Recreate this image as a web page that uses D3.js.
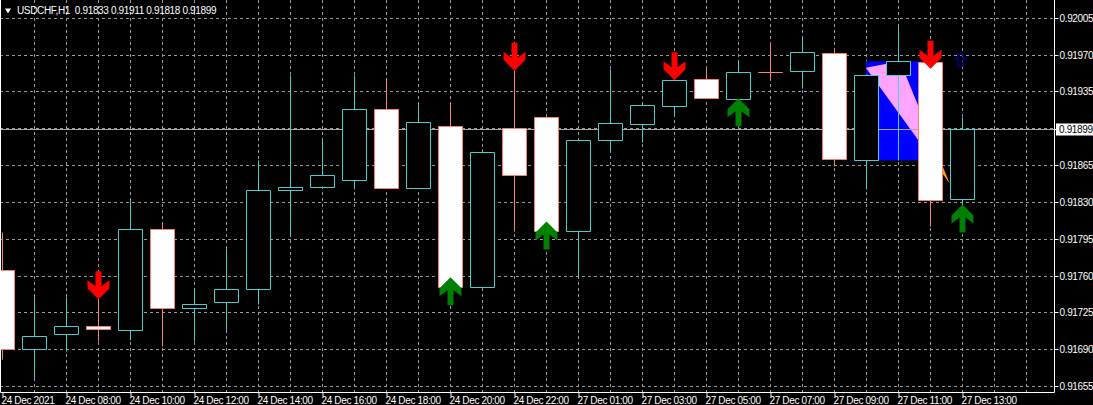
<!DOCTYPE html>
<meta charset="utf-8">
<style>
body { margin: 0; background: #000; }
svg { display: block; }
text {
  font-family: "Liberation Sans", Arial, sans-serif;
  font-size: 10px;
  fill: #fff;
  letter-spacing: -0.35px;
  white-space: pre;
}
</style>
<svg width="1093" height="405"></svg>
<script src="https://cdn.jsdelivr.net/npm/d3@7"></script>
<script>
// hourly bars
var opens  = [0.91765,0.91690,0.91705,0.91712,0.91708,0.91804,0.91729,0.91735,0.91747,0.91841,0.91844,0.91851,0.91918,0.91843,0.91902,0.91749,
              0.91900,0.91911,0.91802,0.91889,0.91904,0.91921,0.91947,0.91928,0.91953,0.91954,0.91971,0.91870,0.91951,0.91963,0.91833];
var highs  = [0.91801,0.91741,0.91740,0.91739,0.91832,0.91809,0.91747,0.91786,0.91870,0.91951,0.91891,0.91951,0.91948,0.91923,0.91924,0.91880,
              0.91956,0.91911,0.91890,0.91956,0.91923,0.91947,0.91957,0.91964,0.91980,0.91986,0.91974,0.91952,0.91998,0.91964,0.91911];
var lows   = [0.91681,0.91663,0.91688,0.91698,0.91699,0.91693,0.91698,0.91708,0.91733,0.91799,0.91843,0.91842,0.91843,0.91843,0.91747,0.91749,
              0.91802,0.91800,0.91760,0.91877,0.91887,0.91913,0.91929,0.91927,0.91946,0.91938,0.91864,0.91842,0.91870,0.91807,0.91818];
var closes = [0.91690,0.91703,0.91712,0.91709,0.91804,0.91729,0.91733,0.91747,0.91841,0.91844,0.91856,0.91918,0.91843,0.91906,0.91749,0.91877,
              0.91856,0.91802,0.91889,0.91905,0.91922,0.91946,0.91929,0.91953,0.91953,0.91972,0.91871,0.91951,0.91964,0.91832,0.91899];

var tickBars   = [0,2,4,6,8,10,12,14,16,18,20,22,24,26,28,30];
var tickLabels = ["24 Dec 2021","24 Dec 08:00","24 Dec 10:00","24 Dec 12:00","24 Dec 14:00","24 Dec 16:00","24 Dec 18:00","24 Dec 20:00",
                  "24 Dec 22:00","27 Dec 01:00","27 Dec 03:00","27 Dec 05:00","27 Dec 07:00","27 Dec 09:00","27 Dec 11:00","27 Dec 13:00"];
var priceTicks = [0.92005,0.91970,0.91935,0.91900,0.91865,0.91830,0.91795,0.91760,0.91725,0.91690,0.91655];

// signal arrows (bar, price of the tip)
var sellBars   = [3, 16, 21, 29];
var sellPrices = [0.91738, 0.91955, 0.91946, 0.91957];
var buyBars    = [14, 17, 23, 30];
var buyPrices  = [0.91759, 0.91812, 0.91929, 0.91828];
var markBar = 30, markPrice = 0.91972;

// rectangle and triangle objects
var rectBars = [27, 29], rectPrices = [0.91964, 0.91870];
var triBars = [26.98, 28.05, 29.6], triPrices = [0.91958, 0.91964, 0.91848];

var symbol = "USDCHF,H1";

var svg = d3.select("svg"),
    width = +svg.attr("width"),
    height = +svg.attr("height");
var plotRight = 1054, plotBottom = 392;
var bull_color = "#48d1cc", bear_color = "#fa8072", grid_color = "#9a9a9a";

var x = d3.scaleLinear().domain([0, 30]).range([2.5, 962.5]);
var y = d3.scaleLinear().domain([0.91655, 0.92005]).range([386.7, 18.2]);
var step = x(1) - x(0), half = step * 0.375;
function crisp(v) { return Math.floor(v) + 0.5; }

svg.append("rect").attr("width", width).attr("height", height).attr("fill", "#000");

var candles = d3.range(opens.length).map(function(i) {
  return { i: i, o: opens[i], h: highs[i], l: lows[i], c: closes[i] };
});

// grid
var grid = svg.append("g").attr("stroke", grid_color).attr("stroke-dasharray", "3,3").attr("stroke-width", 1);
grid.selectAll(".hg").data(priceTicks).enter().append("line")
    .attr("x1", 0).attr("x2", plotRight)
    .attr("y1", function(d) { return crisp(y(d)); })
    .attr("y2", function(d) { return crisp(y(d)); });
grid.selectAll(".vg").data(d3.range(1, 33)).enter().append("line")
    .attr("y1", 0).attr("y2", plotBottom)
    .attr("x1", function(d) { return x(d); })
    .attr("x2", function(d) { return x(d); });

// objects: blue rectangle and orange triangle (xor-like mix)
var obj = svg.append("g").style("isolation", "isolate");
obj.append("rect")
    .attr("x", x(rectBars[0]) - 0.5).attr("y", y(rectPrices[0]))
    .attr("width", x(rectBars[1]) - x(rectBars[0])).attr("height", y(rectPrices[1]) - y(rectPrices[0]))
    .attr("fill", "#0000ff");
obj.append("polygon")
    .attr("points", triBars.map(function(b, k) { return x(b) + "," + y(triPrices[k]); }).join(" "))
    .attr("fill", "#ffa500")
    .style("mix-blend-mode", "difference");

// bid line
var last = closes[closes.length - 1];
svg.append("line")
    .attr("x1", 0).attr("x2", plotRight + 2)
    .attr("y1", crisp(y(last))).attr("y2", crisp(y(last)))
    .attr("stroke", "#a8a8a8");

// candles
var cg = svg.append("g");
cg.selectAll(".wick").data(candles).enter().append("line")
    .attr("x1", function(d) { return x(d.i); })
    .attr("x2", function(d) { return x(d.i); })
    .attr("y1", function(d) { return crisp(y(d.h)); })
    .attr("y2", function(d) { return crisp(y(d.l)); })
    .attr("stroke", function(d) { return d.c > d.o ? bull_color : bear_color; });
cg.selectAll(".body").data(candles).enter().append("path")
    .attr("d", function(d) {
      var cx = x(d.i), t = crisp(y(Math.max(d.o, d.c))), b = crisp(y(Math.min(d.o, d.c)));
      return "M" + (cx - half) + "," + t + "H" + (cx + half) + "V" + b + "H" + (cx - half) + "Z";
    })
    .attr("fill", function(d) { return d.c > d.o ? "#000" : "#fff"; })
    .attr("stroke", function(d) { return d.c > d.o ? bull_color : bear_color; });

// arrows
var downArrow = "M-3,-28L3,-28L3,-13L11,-19L11,-11L0,0L-11,-11L-11,-19L-3,-13Z";
var upArrow   = "M-3,28L3,28L3,13L11,19L11,11L0,0L-11,11L-11,19L-3,13Z";
svg.selectAll(".sell").data(sellBars).enter().append("path")
    .attr("d", downArrow)
    .attr("transform", function(d, k) { return "translate(" + x(d) + "," + y(sellPrices[k]) + ")"; })
    .attr("fill", "#ff0000");
svg.selectAll(".buy").data(buyBars).enter().append("path")
    .attr("d", upArrow)
    .attr("transform", function(d, k) { return "translate(" + x(d) + "," + y(buyPrices[k]) + ")"; })
    .attr("fill", "#008000");
svg.append("path")
    .attr("d", "M0,0L5,6L2.5,6L2.5,13L-2.5,13L-2.5,6L-5,6Z")
    .attr("transform", "translate(" + (x(markBar) - 2) + "," + y(markPrice) + ")")
    .attr("fill", "none").attr("stroke", "#00008b").attr("stroke-width", 1.4);

// frame
svg.append("path")
    .attr("d", "M0.5,0V" + (plotBottom + 0.5) + "H" + (plotRight + 0.5) + "V0")
    .attr("fill", "none").attr("stroke", "#fff");

// axes
var xAxis = svg.append("g")
    .attr("transform", "translate(0," + (plotBottom + 0.5) + ")")
    .call(d3.axisBottom(x).tickValues(tickBars).tickSize(4)
      .tickFormat(function(d, k) { return tickLabels[k]; }));
xAxis.select(".domain").remove();
xAxis.selectAll("line").attr("stroke", "#fff");
xAxis.selectAll("text")
    .attr("fill", "#fff").attr("y", 4).attr("x", -1.5)
    .attr("text-anchor", "start")
    .style("font-family", "Liberation Sans, Arial, sans-serif").style("font-size", "10px");

var yAxis = svg.append("g")
    .attr("transform", "translate(" + (plotRight + 0.5) + ",0)")
    .call(d3.axisRight(y).tickValues(priceTicks.filter(function(p) { return p !== 0.91900; })).tickSize(4)
      .tickFormat(d3.format(".5f")));
yAxis.select(".domain").remove();
yAxis.selectAll("line").attr("stroke", "#fff");
yAxis.selectAll(".tick").attr("transform", function(d) { return "translate(0," + crisp(y(d)) + ")"; });
yAxis.selectAll("text")
    .attr("fill", "#fff").attr("x", 5)
    .style("font-family", "Liberation Sans, Arial, sans-serif").style("font-size", "10px");

// current price label
var ly = crisp(y(last));
svg.append("line").attr("x1", plotRight).attr("x2", plotRight + 4).attr("y1", ly).attr("y2", ly).attr("stroke", "#fff");
svg.append("rect").attr("x", plotRight + 2).attr("y", ly - 6).attr("width", 39).attr("height", 12).attr("fill", "#fff");
svg.append("text").attr("x", plotRight + 5).attr("y", ly + 3.5).style("fill", "#000").text(d3.format(".5f")(last));

// title
svg.append("polygon").attr("points", "5,8.5 11,8.5 8,13.5").attr("fill", "#fff");
svg.append("text").attr("x", 17).attr("y", 14)
    .text(symbol + "  " + [opens, highs, lows, closes].map(function(a) { return d3.format(".5f")(a[a.length - 1]); }).join(" "));
</script>
